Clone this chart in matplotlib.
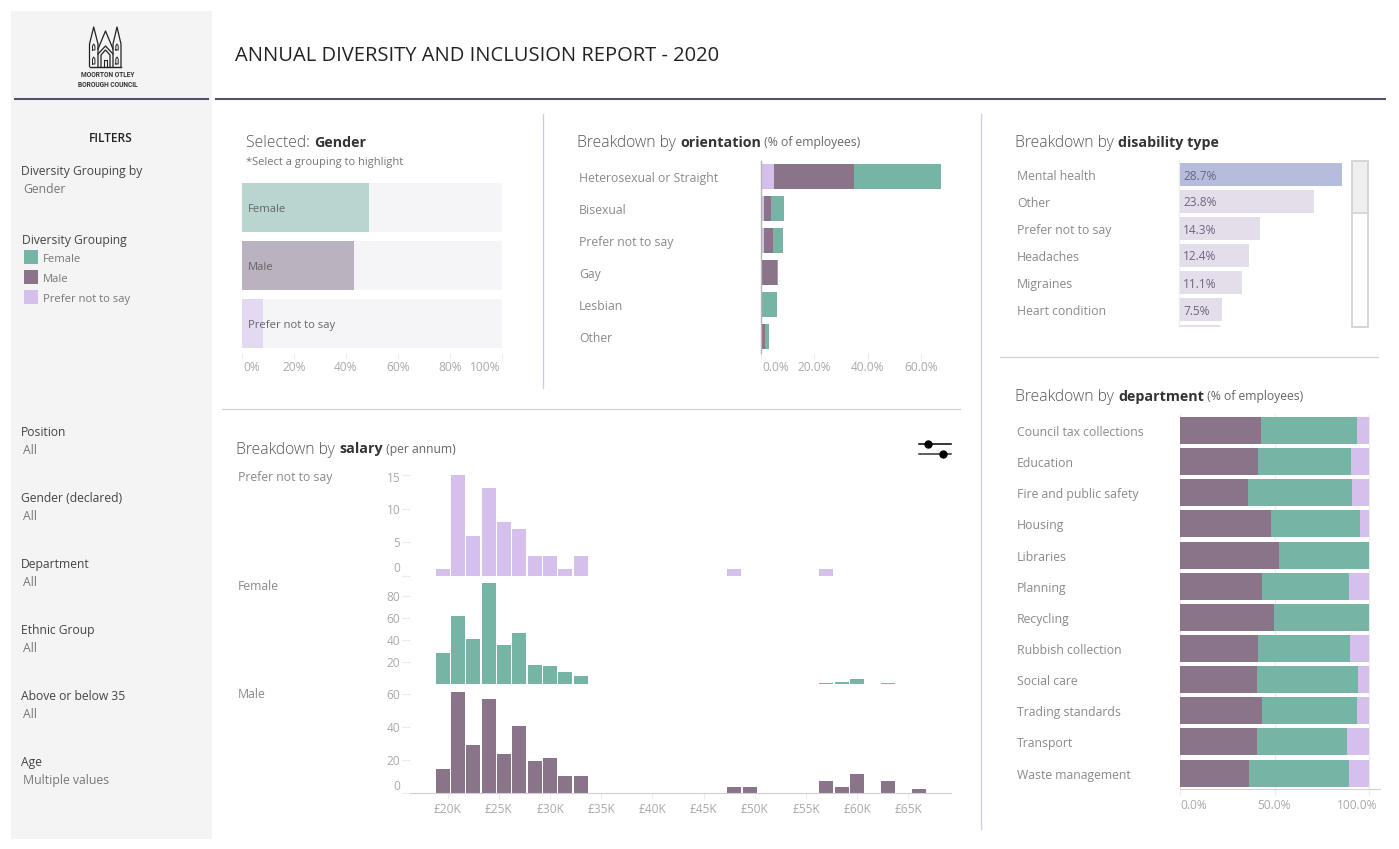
import matplotlib
matplotlib.use("Agg")
import matplotlib.pyplot as plt
from matplotlib.patches import Rectangle
from matplotlib.transforms import ScaledTranslation
import numpy as np

W, H = 1399, 849
FONT = ["Open Sans", "DejaVu Sans"]
plt.rcParams['font.family'] = FONT

FEMALE = "#76b5a5"
MALE = "#897489"
PNTS = "#d5bfec"
TXT = "#8a8a8a"
DARK = "#333333"
TICK = "#a9a9a9"
PALE = "#ececec"

# gender panel
gender_names = ["Female", "Male", "Prefer not to say"]
gender_vals = [48.9, 43.0, 8.0]
gender_light = ["#b8d6cf", "#bab2bf", "#e3d9f1"]

# orientation panel
orient_names = ["Heterosexual or Straight", "Bisexual", "Prefer not to say", "Gay", "Lesbian", "Other"]
orient_pnts = [4.7, 1.0, 1.0, 0.5, 0.0, 0.0]
orient_male = [30.3, 2.6, 3.4, 5.4, 0.0, 1.4]
orient_female = [32.6, 4.9, 3.7, 0.3, 6.1, 1.5]

# disability panel (the 7th row is scrolled out of view, only its top shows)
dis_names = ["Mental health", "Other", "Prefer not to say", "Headaches", "Migraines", "Heart condition"]
dis_vals = [28.7, 23.8, 14.3, 12.4, 11.1, 7.5, 7.2]

# department panel
dept_names = ["Council tax collections", "Education", "Fire and public safety", "Housing",
              "Libraries", "Planning", "Recycling", "Rubbish collection", "Social care",
              "Trading standards", "Transport", "Waste management"]
dept_male = [42.9, 41.3, 36.0, 48.1, 52.4, 43.4, 49.7, 41.3, 40.7, 43.4, 40.7, 36.5]
dept_female = [50.8, 49.2, 55.0, 47.1, 47.6, 46.0, 50.3, 48.6, 53.5, 50.3, 47.7, 52.9]
dept_pnts = [6.3, 9.5, 9.0, 4.8, 0.0, 10.6, 0.0, 10.1, 5.8, 6.3, 11.6, 10.6]

# salary histograms, bin centres in £K
sal_bins = [19.5, 21, 22.5, 24, 25.5, 27, 28.5, 30, 31.5, 33]
sal_pnts = [1, 15, 6, 13, 8, 7, 3, 3, 1, 3]
sal_female = [28.6, 62, 41, 92, 36, 46.5, 17.3, 16.4, 11, 7.3]
sal_male = [15, 61.4, 29, 57, 24, 41, 19.6, 21.4, 10.5, 10.5]
pnts_hi_bins = [48, 57]
pnts_hi = [1, 1]
female_hi_bins = [57, 58.5, 60, 63]
female_hi = [0.9, 1.8, 4.5, 0.9]
male_hi_bins = [48, 49.5, 57, 58.5, 60, 63, 66]
male_hi = [3.8, 3.8, 7.5, 3.8, 11.7, 7.5, 2.6]
sal_ticks = [20, 25, 30, 35, 40, 45, 50, 55, 60, 65]

fig = plt.figure(figsize=(W / 100, H / 100), dpi=100, facecolor="white")


def px_axes(left, top, right, bottom):
    ax = fig.add_axes([left / W, 1 - bottom / H, (right - left) / W, (bottom - top) / H])
    ax.set_facecolor("none")
    for s in ax.spines.values():
        s.set_visible(False)
    return ax


def shift(label, dx=0, dy=0):
    # move a tick label by some pixels, dy is downwards
    label.set_transform(label.get_transform() + ScaledTranslation(dx / 100, -dy / 100, fig.dpi_scale_trans))


def x_labels(ax, ticks, labels, dx=None, size=8.6, pad=2):
    ax.set_xticks(ticks)
    ax.set_xticklabels(labels, fontsize=size, color=TICK)
    ax.tick_params(axis="x", length=4, width=0.8, color=PALE, pad=pad)
    if dx:
        for lab, d in zip(ax.get_xticklabels(), dx):
            shift(lab, d)


def y_names(ax, ticks, names, dx, dy=0.5):
    ax.set_yticks(ticks)
    ax.set_yticklabels(names, fontsize=8.8, color=TXT, ha="left")
    ax.tick_params(axis="y", length=0, pad=0)
    for lab in ax.get_yticklabels():
        shift(lab, dx, dy)


# overlay in pixel coordinates for the page furniture
page = fig.add_axes([0, 0, 1, 1], zorder=5)
page.set_xlim(0, W)
page.set_ylim(H, 0)
page.axis("off")
page.patch.set_alpha(0)

page.add_patch(Rectangle((11, 11), 201, 828, fc="#f4f4f4", ec="none", zorder=0))
page.plot([15, 208], [98.7, 98.7], color="#55506f", lw=1.5)
page.plot([216, 1385], [98.7, 98.7], color="#55506f", lw=1.5)
page.plot([542.5, 542.5], [114, 388], color="#cdcae2", lw=0.9)
page.plot([980.5, 980.5], [114, 829], color="#cdcae2", lw=0.9)
page.plot([222, 960], [409, 409], color="#d2d2d2", lw=0.9)
page.plot([1000, 1378], [357, 357], color="#d2d2d2", lw=0.9)


def txt(x, y, s, size=8.8, color=TXT, weight="normal", ha="left"):
    return page.text(x, y - 1, s, fontsize=size, color=color, fontweight=weight, ha=ha, va="center_baseline")


def rich(x, y, pieces):
    # pieces drawn one after the other: (text, size, colour, weight)
    r = fig.canvas.get_renderer()
    for s, size, color, weight in pieces:
        t = txt(x, y, s, size, color, weight)
        x += t.get_window_extent(r).width


SP = " "
HEAD = (11.3, "#555555", "light")
BOLD = (10.3, DARK, "bold")
NOTE = (8.7, "#666666", "normal")
rich(246, 142, [("Selected:" + SP, *HEAD), ("Gender", *BOLD)])
txt(246, 161.5, "*Select a grouping to highlight", 8, "#777777")
rich(577, 142, [("Breakdown by" + SP, *HEAD), ("orientation", *BOLD), (SP + "(% of employees)", *NOTE)])
rich(1015, 142, [("Breakdown by" + SP, *HEAD), ("disability type", *BOLD)])
rich(1015, 396, [("Breakdown by" + SP, *HEAD), ("department", *BOLD), (SP + "(% of employees)", *NOTE)])
rich(236, 448.5, [("Breakdown by" + SP, *HEAD), ("salary", *BOLD), (SP + "(per annum)", *NOTE)])
txt(235, 54, "ANNUAL DIVERSITY AND INCLUSION REPORT - 2020", 14.5, "#222222")

# sidebar
txt(111, 138, "FILTERS", 8.6, "#222222", "semibold", ha="center")
txt(21, 171, "Diversity Grouping by", 8.7, "#444444")
txt(23, 189, "Gender", 8.8, "#777777")
txt(22, 240, "Diversity Grouping", 8.7, "#444444")
for i, (name, col) in enumerate(zip(["Female", "Male", "Prefer not to say"], [FEMALE, MALE, PNTS])):
    page.add_patch(Rectangle((24, 250 + 20 * i), 14, 14, fc=col, ec="none"))
    txt(43, 259 + 20 * i, name, 8.1, "#777777")
filters = [("Position", "All", 432), ("Gender (declared)", "All", 498), ("Department", "All", 564),
           ("Ethnic Group", "All", 630), ("Above or below 35", "All", 696), ("Age", "Multiple values", 762)]
for name, val, y in filters:
    txt(21, y, name, 8.7, "#444444")
    txt(23, y + 18, val, 8.8, "#777777")

# logo, a small church line drawing
lc = "#222222"
for x0, x1, apex in [(89.5, 98, 93.7), (113, 121, 117)]:
    page.plot([x0, x0, apex, x1, x1], [66.5, 44, 27, 44, 66.5], color=lc, lw=0.9)
page.plot([89.5, 121], [66.8, 66.8], color=lc, lw=1)
page.plot([98, 105.5, 113], [49, 31, 49], color=lc, lw=0.9)
page.plot([98, 105.5, 113], [54, 46, 54], color=lc, lw=0.9)
page.plot([101, 101, 105.5, 110, 110], [66.5, 55, 50, 55, 66.5], color=lc, lw=0.9)
page.plot([104, 104, 107, 107], [66.5, 60, 60, 66.5], color=lc, lw=0.8)
for xw in [93.7, 117]:
    page.plot([xw - 1.2, xw - 1.2, xw, xw + 1.2, xw + 1.2, xw - 1.2], [50, 46, 44, 46, 50, 50], color=lc, lw=0.7)
    page.plot([xw - 1.2, xw - 1.2, xw, xw + 1.2, xw + 1.2, xw - 1.2], [64, 59, 57, 59, 64, 64], color=lc, lw=0.7)
page.text(107.5, 75, "MOORTON OTLEY", fontsize=4.8, color="#333333", ha="center", va="center",
          fontweight="bold", family=["Liberation Sans Narrow", "Roboto"])
page.text(107.5, 84.5, "BOROUGH COUNCIL", fontsize=4.8, color="#333333", ha="center", va="center",
          fontweight="bold", family=["Liberation Sans Narrow", "Roboto"])

# slider icon
page.plot([919, 951], [444, 444], color="black", lw=1.1)
page.plot([919, 951], [453.5, 453.5], color="#333333", lw=1.1)
page.plot([928], [444], "o", color="black", ms=5)
page.plot([943], [453.5], "o", color="black", ms=5)

# scrollbar of the disability list
page.add_patch(Rectangle((1352, 161), 16, 166, fc="white", ec="#d6d6d6", lw=1.4))
page.add_patch(Rectangle((1352, 161), 16, 52, fc="#efefef", ec="#d6d6d6", lw=1.4))

# gender
ax = px_axes(242, 178, 502, 353)
ypos = np.arange(3)
ax.barh(ypos, [100] * 3, height=49 / 58, color="#f5f5f8")
ax.barh(ypos, gender_vals, height=49 / 58, color=gender_light)
ax.set_xlim(0, 100)
ax.set_ylim((353 - 207.5) / 58, (178 - 207.5) / 58)
ax.set_yticks([])
for i, n in enumerate(gender_names):
    ax.text(2.3, i + 0.01, n, fontsize=8.1, color="#666666", va="center_baseline")
x_labels(ax, [0, 20, 40, 60, 80, 100], ["0%", "20%", "40%", "60%", "80%", "100%"], dx=[10, 0, 0, 0, 0, -17])

# orientation
ax = px_axes(761, 161, 945, 353)
ypos = np.arange(6)
left = np.zeros(6)
for vals, col in [(orient_pnts, PNTS), (orient_male, MALE), (orient_female, FEMALE)]:
    ax.barh(ypos, vals, left=left, height=25 / 32, color=col)
    left += np.array(vals)
ax.set_xlim(0, 184 / 2.67)
ax.set_ylim((353 - 176.5) / 32, (161 - 176.5) / 32)
ax.spines["left"].set_visible(True)
ax.spines["left"].set_color("#b5b5b5")
ax.spines["left"].set_linewidth(1)
y_names(ax, ypos, orient_names, 579 - 761)
x_labels(ax, [0, 20, 40, 60], ["0.0%", "20.0%", "40.0%", "60.0%"], dx=[14.5, 0, 0, 0])

# disability
ax = px_axes(1179, 160, 1345, 327)
ypos = np.arange(7)
cols = ["#b5bcdc"] + ["#e4deeb"] * 6
ax.barh(ypos, dis_vals, height=23 / 27, color=cols)
ax.set_xlim(0, 166 / 5.68)
ax.set_ylim((327 - 174.5) / 27, (160 - 174.5) / 27)
ax.spines["left"].set_visible(True)
ax.spines["left"].set_color(PALE)
ax.set_xticks([])
y_names(ax, np.arange(6), dis_names, 1017 - 1179)
for i, v in enumerate(dis_vals[:6]):
    ax.text(0.7, i, f"{v}%", fontsize=8.6, color="#6f6480", va="center_baseline")

# department
ax = px_axes(1180, 414, 1380, 789)
ypos = np.arange(12)
ax.grid(axis="x", color=PALE, lw=0.8)
ax.set_axisbelow(True)
left = np.zeros(12)
for vals, col in [(dept_male, MALE), (dept_female, FEMALE), (dept_pnts, PNTS)]:
    ax.barh(ypos, vals, left=left, height=27 / 31.14, color=col)
    left += np.array(vals)
ax.set_xlim(0, 200 / 1.89)
ax.set_ylim((789 - 430.5) / 31.14, (414 - 430.5) / 31.14)
ax.spines["bottom"].set_visible(True)
ax.spines["bottom"].set_color("#cfcfcf")
y_names(ax, ypos, dept_names, 1017 - 1180)
x_labels(ax, [0, 50, 100], ["0.0%", "50.0%", "100.0%"], dx=[14, 0, -12], pad=3)

# salary histograms
panels = [
    (467, 576, 6.75, sal_pnts, pnts_hi_bins, pnts_hi, PNTS, [0, 5, 10, 15], "Prefer not to say", 477),
    (578, 684, 1.097, sal_female, female_hi_bins, female_hi, FEMALE, [20, 40, 60, 80], "Female", 586),
    (686, 793.3, 1.65, sal_male, male_hi_bins, male_hi, MALE, [0, 20, 40, 60], "Male", 694),
]
for top, base, scale, vals, hi_bins, hi, col, yt, name, name_y in panels:
    ax = px_axes(410, top, 951, base)
    ax.bar(sal_bins + hi_bins, vals + hi, width=1.36, color=col)
    ax.set_xlim(20 + (410 - 447.7) / 10.236, 20 + (951 - 447.7) / 10.236)
    ax.set_ylim(0, (base - top) / scale)
    ax.set_yticks(yt)
    ax.set_yticklabels([str(v) for v in yt], fontsize=8.6, color=TICK)
    ax.tick_params(axis="y", length=6, width=0.8, color=PALE, pad=1)
    for lab, v in zip(ax.get_yticklabels(), yt):
        if v == 0:
            shift(lab, 0, -8.5)
        elif v == 15:
            shift(lab, 0, 2)
    txt(238, name_y, name, 8.8, TXT)
    if name == "Male":
        ax.spines["bottom"].set_visible(True)
        ax.spines["bottom"].set_color("#cfcfcf")
        x_labels(ax, sal_ticks, [f"£{v}K" for v in sal_ticks], pad=3)
    else:
        ax.set_xticks([])

fig.savefig("out.png", dpi=100)
